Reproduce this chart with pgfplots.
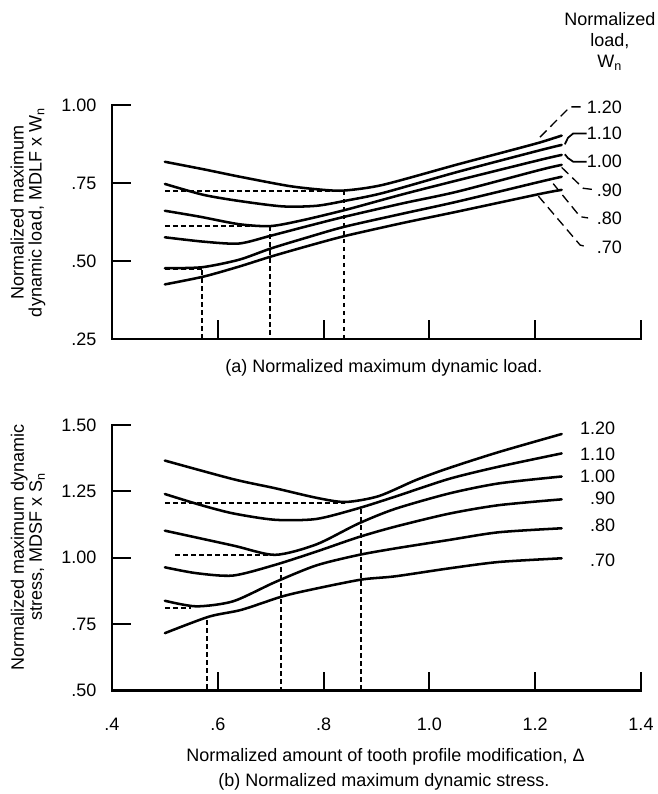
\documentclass[border=0pt]{standalone}
\usepackage{fontspec}
\setmainfont{Liberation Sans}
\usepackage{pgfplots}
\pgfplotsset{compat=1.18}
\pgfplotsset{
  base/.style={
    scale only axis, width=396.75pt,
    xmin=0.4, xmax=1.4,
    axis x line=bottom, axis y line=left,
    axis line style={-, line width=1.6pt, line cap=rect},
    tick align=inside,
    major tick length=14pt,
    every tick/.style={line width=1.6pt, black},
    clip=false,
    font=\fontsize{13.5}{16}\selectfont,
    xtick={0.4,0.6,0.8,1.0,1.2,1.4},
    yticklabel style={xshift=-8.25pt},
    ylabel style={at={(axis description cs:-0.159,0.54)}, anchor=center, align=center, font=\fontsize{13.5}{13.5}\selectfont},
  },
  curve/.style={line width=1.9pt, black, smooth, tension=0.45, line cap=round, line join=round},
  dot/.style={line width=1.5pt, black, dash pattern=on 3.5pt off 2.5pt},
  lead/.style={line width=1pt, black, dash pattern=on 7pt off 4pt},
  leads/.style={line width=1.3pt, black},
}
\begin{document}
\begin{tikzpicture}
\useasboundingbox (-84pt,-77.625pt) rectangle (409.5pt,517.875pt);
% ---------------- top panel ----------------
\begin{axis}[base, at={(0pt,263.625pt)}, anchor=south west,
  height=175.5pt, ymin=0.25, ymax=1.0,
  ytick={0.25,0.5,0.75,1.0}, yticklabels={.25,.50,.75,1.00},
  xticklabels={,,,,,},
  ylabel={Normalized maximum\\dynamic load, MDLF x W\textsubscript{n}}]
% reference (dotted) lines
\addplot[dot] coordinates {(0.5,0.725) (0.839,0.725)};
\addplot[dot] coordinates {(0.839,0.725) (0.839,0.25)};
\addplot[dot] coordinates {(0.5,0.611) (0.699,0.611)};
\addplot[dot] coordinates {(0.699,0.611) (0.699,0.25)};
\addplot[dot] coordinates {(0.5,0.474) (0.570,0.474)};
\addplot[dot] coordinates {(0.570,0.471) (0.570,0.25)};
% W_n = 1.20
\addplot[curve] coordinates {(0.5,0.818) (0.573,0.794) (0.642,0.770) (0.736,0.740) (0.80,0.728) (0.84,0.726) (0.912,0.744) (1.052,0.809) (1.15,0.853) (1.209,0.880) (1.25,0.902)};
% 1.10
\addplot[curve] coordinates {(0.5,0.747) (0.573,0.712) (0.642,0.692) (0.723,0.675) (0.787,0.677) (0.844,0.694) (0.912,0.718) (1.052,0.785) (1.209,0.855) (1.25,0.872)};
% 1.00
\addplot[curve] coordinates {(0.5,0.661) (0.566,0.642) (0.64,0.618) (0.70,0.612) (0.761,0.631) (0.844,0.665) (0.95,0.714) (1.052,0.758) (1.209,0.824) (1.25,0.840)};
% 0.90
\addplot[curve] coordinates {(0.5,0.576) (0.573,0.562) (0.64,0.556) (0.70,0.581) (0.77,0.612) (0.84,0.642) (0.95,0.685) (1.052,0.722) (1.209,0.792) (1.25,0.808)};
% 0.80
\addplot[curve] coordinates {(0.5,0.477) (0.57,0.480) (0.64,0.504) (0.70,0.540) (0.77,0.576) (0.84,0.610) (0.95,0.652) (1.052,0.690) (1.209,0.754) (1.25,0.770)};
% 0.70
\addplot[curve] coordinates {(0.5,0.425) (0.573,0.450) (0.64,0.482) (0.70,0.514) (0.77,0.548) (0.84,0.580) (0.95,0.622) (1.052,0.658) (1.209,0.715) (1.25,0.728)};
% leaders
\addplot[lead] coordinates {(1.209,0.897) (1.266,0.994) (1.29,0.994)};
\addplot[leads] coordinates {(1.256,0.874) (1.262,0.895) (1.272,0.909) (1.297,0.909)};
\addplot[leads] coordinates {(1.256,0.842) (1.262,0.830) (1.272,0.818) (1.297,0.818)};
\addplot[lead] coordinates {(1.25,0.800) (1.291,0.733) (1.315,0.728)};
\addplot[lead] coordinates {(1.234,0.748) (1.285,0.642) (1.300,0.638)};
\addplot[lead] coordinates {(1.206,0.708) (1.285,0.551) (1.300,0.545)};
\node[anchor=east] at (axis cs:1.373,0.994) {1.20};
\node[anchor=east] at (axis cs:1.373,0.909) {1.10};
\node[anchor=east] at (axis cs:1.373,0.818) {1.00};
\node[anchor=east] at (axis cs:1.373,0.728) {.90};
\node[anchor=east] at (axis cs:1.373,0.638) {.80};
\node[anchor=east] at (axis cs:1.373,0.545) {.70};
\node[align=center, font=\fontsize{13.5}{15.75}\selectfont] at (axis cs:1.341,1.205) {Normalized\\load,\\W\textsubscript{n}};
\node[yshift=-21.75pt] at (axis description cs:0.514,0) {(a) Normalized maximum dynamic load.};
\end{axis}
% ---------------- bottom panel ----------------
\begin{axis}[base, at={(0pt,0pt)}, anchor=south west,
  height=199.125pt, ymin=0.5, ymax=1.5,
  ytick={0.5,0.75,1.0,1.25,1.5}, yticklabels={.50,.75,1.00,1.25,1.50},
  xticklabels={.4,.6,.8,1.0,1.2,1.4},
  xticklabel style={yshift=-17pt},
  ylabel={Normalized maximum dynamic\\stress, MDSF x S\textsubscript{n}}]
\addplot[dot] coordinates {(0.5,1.207) (0.84,1.207)};
\addplot[dot] coordinates {(0.871,1.182) (0.871,0.5)};
\addplot[dot] coordinates {(0.52,1.010) (0.70,1.010)};
\addplot[dot] coordinates {(0.72,0.965) (0.72,0.5)};
\addplot[dot] coordinates {(0.5,0.812) (0.55,0.812)};
\addplot[dot] coordinates {(0.58,0.765) (0.58,0.5)};
% 1.20
\addplot[curve] coordinates {(0.5,1.366) (0.629,1.296) (0.708,1.262) (0.786,1.226) (0.841,1.210) (0.904,1.232) (0.975,1.293) (1.037,1.338) (1.131,1.398) (1.25,1.466)};
% 1.10
\addplot[curve] coordinates {(0.5,1.240) (0.567,1.199) (0.629,1.167) (0.708,1.143) (0.786,1.146) (0.865,1.186) (0.935,1.230) (1.037,1.297) (1.131,1.343) (1.25,1.393)};
% 1.00
\addplot[curve] coordinates {(0.5,1.102) (0.629,1.046) (0.708,1.011) (0.786,1.050) (0.865,1.128) (0.935,1.184) (1.037,1.242) (1.131,1.280) (1.25,1.306)};
% 0.90
\addplot[curve] coordinates {(0.5,0.964) (0.559,0.942) (0.629,0.933) (0.708,0.973) (0.786,1.023) (0.865,1.077) (0.935,1.117) (1.037,1.166) (1.131,1.198) (1.25,1.220)};
% 0.80
\addplot[curve] coordinates {(0.5,0.838) (0.559,0.817) (0.629,0.836) (0.708,0.908) (0.786,0.971) (0.865,1.010) (0.935,1.035) (1.037,1.067) (1.131,1.096) (1.25,1.111)};
% 0.70
\addplot[curve] coordinates {(0.5,0.716) (0.583,0.778) (0.645,0.804) (0.723,0.855) (0.786,0.884) (0.872,0.918) (0.935,0.930) (1.037,0.960) (1.131,0.984) (1.25,0.998)};
\node[anchor=east] at (axis cs:1.36,1.489) {1.20};
\node[anchor=east] at (axis cs:1.36,1.391) {1.10};
\node[anchor=east] at (axis cs:1.36,1.305) {1.00};
\node[anchor=east] at (axis cs:1.36,1.225) {.90};
\node[anchor=east] at (axis cs:1.36,1.123) {.80};
\node[anchor=east] at (axis cs:1.36,0.991) {.70};
\node[yshift=-49.8pt] at (axis description cs:0.517,0) {Normalized amount of tooth profile modification, Δ};
\node[yshift=-68.6pt] at (axis description cs:0.514,0) {(b) Normalized maximum dynamic stress.};
\end{axis}
\end{tikzpicture}
\end{document}
